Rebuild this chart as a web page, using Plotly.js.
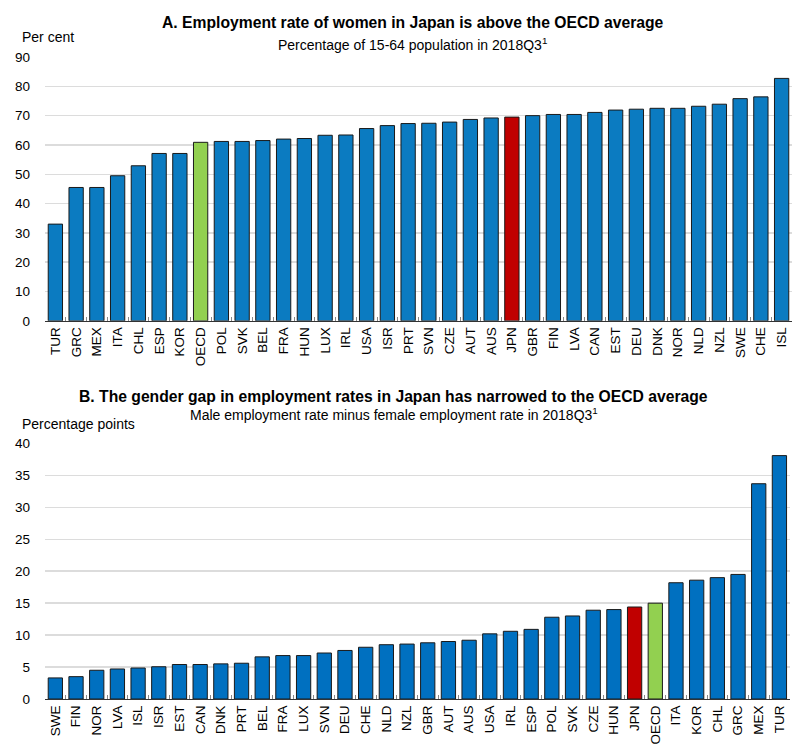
<!DOCTYPE html>
<html>
<head>
<meta charset="utf-8">
<script src="https://cdn.plot.ly/plotly-3.0.1.min.js"></script>
<style>
  html, body {margin: 0; padding: 0; background: #fff;}
  #chart {width: 805px; height: 750px;}
</style>
</head>
<body>
<div id="chart"></div>
<script>
/////Data/////
const topCountries = ['TUR', 'GRC', 'MEX', 'ITA', 'CHL', 'ESP', 'KOR', 'OECD', 'POL', 'SVK',
  'BEL', 'FRA', 'HUN', 'LUX', 'IRL', 'USA', 'ISR', 'PRT', 'SVN', 'CZE', 'AUT', 'AUS',
  'JPN', 'GBR', 'FIN', 'LVA', 'CAN', 'EST', 'DEU', 'DNK', 'NOR', 'NLD', 'NZL', 'SWE',
  'CHE', 'ISL'];
const topValues = [33.0, 45.5, 45.5, 49.5, 52.9, 57.1, 57.1, 60.9, 61.2, 61.2,
  61.5, 62.0, 62.2, 63.3, 63.4, 65.6, 66.6, 67.3, 67.4, 67.8, 68.7, 69.2,
  69.5, 70.0, 70.4, 70.4, 71.1, 71.9, 72.2, 72.5, 72.5, 73.2, 73.9, 75.8,
  76.4, 82.7];

const bottomCountries = ['SWE', 'FIN', 'NOR', 'LVA', 'ISL', 'ISR', 'EST', 'CAN', 'DNK', 'PRT',
  'BEL', 'FRA', 'LUX', 'SVN', 'DEU', 'CHE', 'NLD', 'NZL', 'GBR', 'AUT', 'AUS', 'USA',
  'IRL', 'ESP', 'POL', 'SVK', 'CZE', 'HUN', 'JPN', 'OECD', 'ITA', 'KOR', 'CHL', 'GRC',
  'MEX', 'TUR'];
const bottomValues = [3.3, 3.5, 4.5, 4.7, 4.85, 5.05, 5.4, 5.4, 5.5, 5.6,
  6.6, 6.8, 6.8, 7.2, 7.6, 8.1, 8.5, 8.6, 8.8, 9.0, 9.2, 10.2,
  10.6, 10.9, 12.8, 13.0, 13.9, 14.0, 14.4, 15.0, 18.2, 18.6, 19.0, 19.5,
  33.7, 38.1];

const topTicks = [0, 10, 20, 30, 40, 50, 60, 70, 80, 90];
const bottomTicks = [0, 5, 10, 15, 20, 25, 30, 35, 40];

/////Styling helpers/////
const FONT = 'Liberation Sans, Arial, sans-serif';
function barColors(countries, base) {
  return countries.map((c) => {
    if (c === 'JPN') return '#C00000';
    if (c === 'OECD') return '#92D050';
    return base;
  });
}
function xAxisStyle(domain) {
  return {
    domain: domain,
    type: 'category',
    showline: true,
    linecolor: '#333',
    linewidth: 1,
    ticks: 'inside',
    tickson: 'boundaries',
    ticklen: 4,
    tickcolor: '#888',
    tickangle: -90,
    tickfont: {family: FONT, size: 13.5, color: '#000'},
    showgrid: false,
    fixedrange: true,
  };
}
function yAxisStyle(domain, range, ticks) {
  return {
    domain: domain,
    range: range,
    tickvals: ticks,
    ticktext: ticks.map(String),
    showgrid: true,
    gridcolor: '#dcdcdc',
    gridwidth: 1.5,
    zeroline: false,
    showline: false,
    ticks: '',
    ticklabelstandoff: 14,
    tickfont: {family: FONT, size: 13.5, color: '#000'},
    fixedrange: true,
  };
}

const traces = [
  {
    type: 'bar',
    x: topCountries,
    y: topValues,
    xaxis: 'x',
    yaxis: 'y',
    marker: {color: barColors(topCountries, '#0B7BC1'), line: {color: '#1a1a1a', width: 1}},
    hoverinfo: 'x+y',
  },
  {
    type: 'bar',
    x: bottomCountries,
    y: bottomValues,
    xaxis: 'x2',
    yaxis: 'y2',
    marker: {color: barColors(bottomCountries, '#0070C0'), line: {color: '#1a1a1a', width: 1}},
    hoverinfo: 'x+y',
  },
];

function note(text, x, y, opts) {
  return Object.assign({
    text: text, x: x, y: y, xref: 'paper', yref: 'paper',
    xanchor: 'center', yanchor: 'middle', showarrow: false,
    font: {family: FONT, size: 14, color: '#000'},
  }, opts || {});
}
const TITLE_FONT = {family: FONT, size: 15.7, color: '#000'};

const layout = {
  width: 805,
  height: 750,
  margin: {l: 45, r: 13, t: 57, b: 51},
  paper_bgcolor: '#fff',
  plot_bgcolor: '#fff',
  showlegend: false,
  bargap: 0.31,
  xaxis: xAxisStyle([0, 1]),
  yaxis: yAxisStyle([0.589, 1], [0, 90], topTicks),
  xaxis2: Object.assign(xAxisStyle([0, 0.997]), {anchor: 'y2'}),
  yaxis2: Object.assign(yAxisStyle([0, 0.398], [0, 40], bottomTicks), {anchor: 'x2'}),
  annotations: [
    note('<b>A. Employment rate of women in Japan is above the OECD average</b>', 0.492, 1.054,
      {font: TITLE_FONT}),
    note('Percentage of 15-64 population in 2018Q3<sup>1</sup>', 0.492, 1.021),
    note('Per cent', -0.034, 1.031, {xanchor: 'left'}),
    note('<b>B. The gender gap in employment rates in Japan has narrowed to the OECD average</b>', 0.467, 0.4706,
      {font: TITLE_FONT}),
    note('Male employment rate minus female employment rate in 2018Q3<sup>1</sup>', 0.467, 0.444),
    note('Percentage points', -0.034, 0.4286, {xanchor: 'left'}),
  ],
};

Plotly.newPlot('chart', traces, layout, {displayModeBar: false, staticPlot: true});
</script>
</body>
</html>
